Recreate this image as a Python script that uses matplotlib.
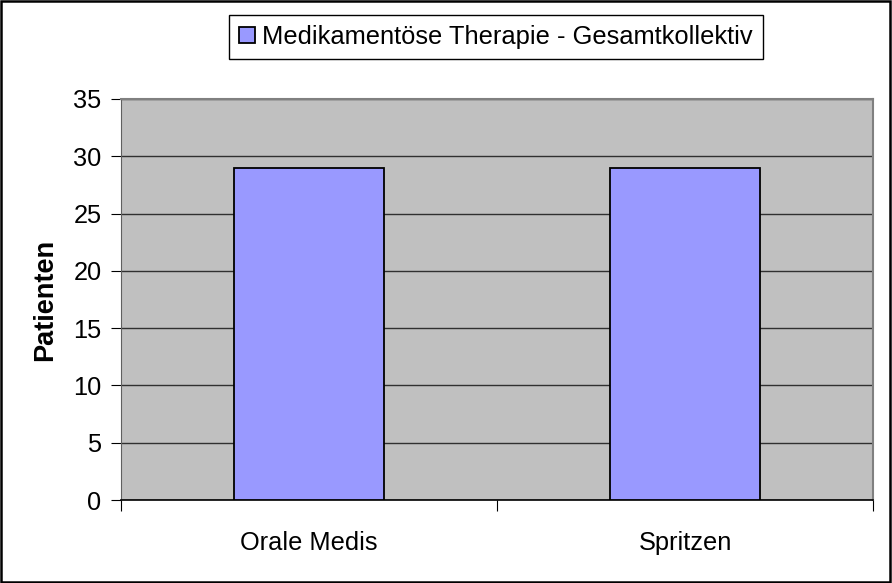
import matplotlib.pyplot as plt
from matplotlib.patches import Rectangle

# --- DATA ---
categories = ['Orale Medis', 'Spritzen']
patienten = [29, 29]
series_name = 'Medikamentöse Therapie - Gesamtkollektiv'
y_ticks = [0, 5, 10, 15, 20, 25, 30, 35]

plt.rcParams['font.family'] = ['Liberation Sans', 'DejaVu Sans']

fig = plt.figure(figsize=(8.92, 5.83), dpi=100)
ax = fig.add_axes([121 / 892, 1 - 500 / 583, 752 / 892, 401 / 583])
ax.set_facecolor('#C0C0C0')

x = range(len(categories))
ax.bar(x, patienten, width=0.4, color='#9999FF', edgecolor='black',
       linewidth=1.3, label=series_name, zorder=3)

ax.set_ylim(0, 35)
ax.set_xlim(-0.5, len(categories) - 0.5)
ax.set_yticks(y_ticks)
ax.set_yticklabels([str(v) for v in y_ticks], fontsize=18.3)
ax.yaxis.grid(True, color='#303030', linewidth=1, zorder=1)

# category boundaries as major ticks, labels on minor ticks
ax.set_xticks([i - 0.5 for i in range(len(categories) + 1)])
ax.set_xticklabels([])
ax.set_xticks(list(x), minor=True)
ax.set_xticklabels(categories, minor=True, fontsize=18.3)
ax.tick_params(axis='x', which='minor', length=0, pad=22)
ax.tick_params(axis='x', which='major', length=8, color='black', direction='out')
ax.tick_params(axis='y', length=7, color='black', direction='out', pad=7)

for side in ['top', 'right']:
    ax.spines[side].set_color('#808080')
    ax.spines[side].set_linewidth(1.5)
ax.spines['left'].set_color('#606060')
ax.spines['bottom'].set_color('black')
ax.spines['bottom'].set_linewidth(1.2)

ax.set_ylabel('Patienten', fontsize=19.5, fontweight='bold', labelpad=11)

leg = ax.legend(loc='center', bbox_to_anchor=(496 / 892, 1 - 37 / 583),
                bbox_transform=fig.transFigure, fontsize=18.4, frameon=True,
                fancybox=False, edgecolor='black', framealpha=1,
                handlelength=0.6, handleheight=0.6, handletextpad=0.3,
                borderpad=0.38, borderaxespad=0)
leg.get_frame().set_linewidth(1)

# outer chart border
fig.patches.append(Rectangle((0.001, 0.002), 0.997, 0.996, transform=fig.transFigure,
                             fill=False, edgecolor='black', linewidth=1.8))

plt.savefig('out.png', dpi=100)
print("Saved out.png")
